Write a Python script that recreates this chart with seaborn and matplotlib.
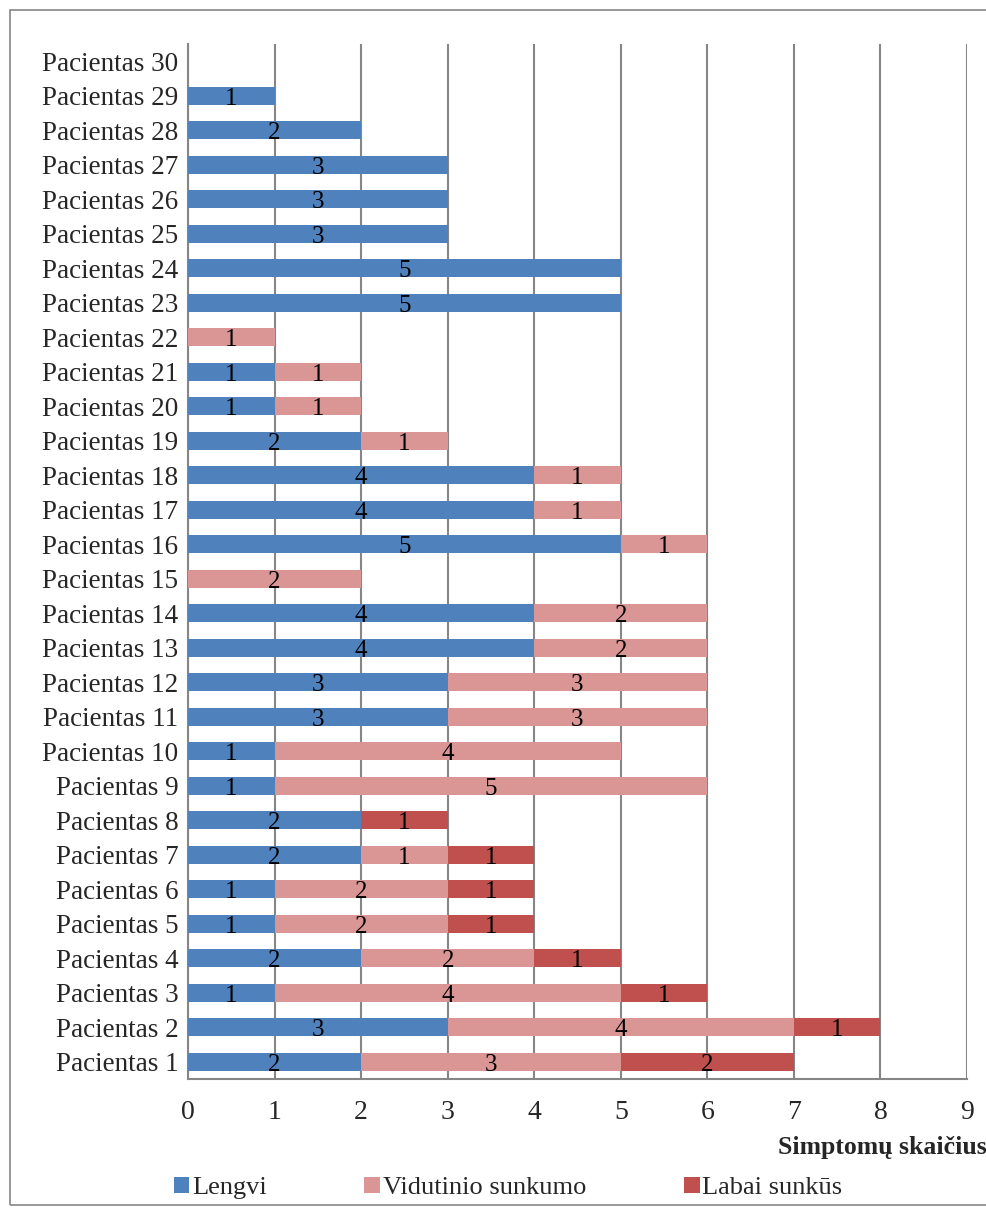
import matplotlib
matplotlib.use("Agg")
import matplotlib.pyplot as plt
import seaborn as sns
import pandas as pd
import numpy as np
from matplotlib.patches import Rectangle, Patch

# data (Pacientas 1 .. 30)
patients = [f"Pacientas {i}" for i in range(1, 31)]
lengvi = [2, 3, 1, 2, 1, 1, 2, 2, 1, 1, 3, 3, 4, 4, 0, 5, 4, 4, 2, 1, 1, 0, 5, 5, 3, 3, 3, 2, 1, 0]
vidutinio = [3, 4, 4, 2, 2, 2, 1, 0, 5, 4, 3, 3, 2, 2, 2, 1, 1, 1, 1, 1, 1, 1, 0, 0, 0, 0, 0, 0, 0, 0]
labai = [2, 1, 1, 1, 1, 1, 1, 1, 0, 0, 0, 0, 0, 0, 0, 0, 0, 0, 0, 0, 0, 0, 0, 0, 0, 0, 0, 0, 0, 0]
series_names = ["Lengvi", "Vidutinio sunkumo", "Labai sunkūs"]
colors = ["#4F81BD", "#DA9694", "#C0504D"]

df = pd.DataFrame({"patient": patients, "Lengvi": lengvi,
                   "Vidutinio sunkumo": vidutinio, "Labai sunkūs": labai})
df["c1"] = df["Lengvi"]
df["c2"] = df["c1"] + df["Vidutinio sunkumo"]
df["c3"] = df["c2"] + df["Labai sunkūs"]
order = patients[::-1]

sns.set_style("white")
plt.rcParams["font.family"] = ["Liberation Serif", "DejaVu Serif"]

fig = plt.figure(figsize=(9.87, 12.15), dpi=100)
fig.patches.append(Rectangle((10 / 987, 10 / 1215), 1.0, 1 - 20 / 1215, transform=fig.transFigure,
                             fill=False, edgecolor="#868686", linewidth=1.2))
ax = fig.add_axes([188 / 987, 136 / 1215, (967 - 188) / 987, (1079 - 44) / 1215])

# stacked bars by overlapping cumulative totals
for col, c in zip(["c3", "c2", "c1"], colors[::-1]):
    sns.barplot(data=df, x=col, y="patient", order=order, orient="h", color=c,
                width=0.52, ax=ax, saturation=1, linewidth=0, zorder=3)

# segment labels
ypos = {p: i for i, p in enumerate(order)}
for _, row in df.iterrows():
    start = 0
    for name in series_names:
        v = row[name]
        if v > 0:
            ax.text(start + v / 2, ypos[row["patient"]] + 0.08, str(v), ha="center", va="center",
                    fontsize=18, color="black", zorder=5)
        start += v

ax.set_xlim(0, 9)
ax.set_ylim(len(order) - 0.5, -0.5)
ax.set_xticks(range(0, 10))
ax.tick_params(axis="x", labelsize=20, length=6, width=1.5, color="#868686", direction="out", pad=9)
ax.tick_params(axis="y", labelsize=19.5, length=0, pad=7)
ax.set_yticks(np.arange(-0.5, len(order), 1), minor=True)
ax.tick_params(axis="y", which="minor", length=6, width=1.5, color="#868686", direction="out")
ax.grid(axis="x", color="#868686", linewidth=1.5, zorder=0)
ax.set_axisbelow(True)
for s in ["top", "right"]:
    ax.spines[s].set_visible(False)
for s in ["left", "bottom"]:
    ax.spines[s].set_color("#868686")
    ax.spines[s].set_linewidth(1.5)
ax.set_ylabel("")
ax.set_xlabel("Simptomų skaičius", fontsize=18.5, fontweight="bold")
ax.xaxis.set_label_coords(1.025, -0.055, transform=ax.transAxes)
ax.xaxis.label.set_ha("right")

handles = [Patch(facecolor=c, edgecolor="none") for c in colors]
fig.legend(handles, series_names, loc="center left", bbox_to_anchor=(163 / 987, 1 - 1188 / 1215),
           ncol=3, frameon=False, fontsize=19, handlelength=0.6, handleheight=0.6,
           handletextpad=0.1, columnspacing=3.7, borderaxespad=0)

fig.savefig("out.png", dpi=100)
